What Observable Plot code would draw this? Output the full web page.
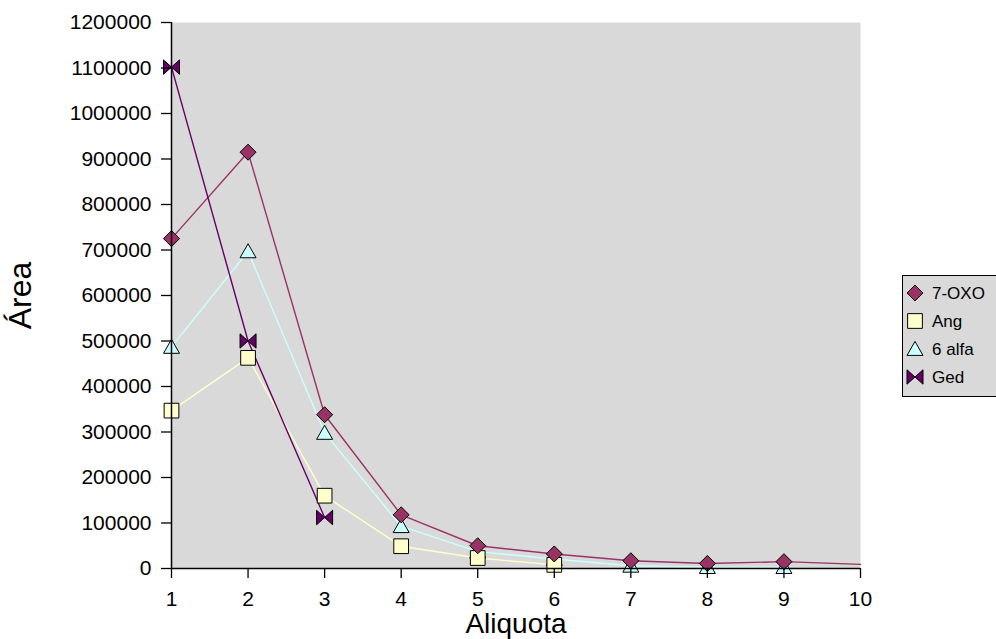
<!DOCTYPE html>
<html><head><meta charset="utf-8">
<script src="https://cdn.jsdelivr.net/npm/d3@7"></script>
<script src="https://cdn.jsdelivr.net/npm/@observablehq/plot@0.6"></script>
<style>body{margin:0;background:#fff;}</style>
</head><body><div id="chart"></div>
<script>
// ---- data ----
const aliquots = [1, 2, 3, 4, 5, 6, 7, 8, 9, 10];
const seriesNames = ["7-OXO", "Ang", "6 alfa", "Ged"];
const oxo  = [725000, 915000, 338000, 118000, 50000, 32000, 17000, 11000, 15000, 9000];
const ang  = [347000, 463000, 160000, 49000, 23000, 8000];
const alfa = [487000, 697000, 298000, 93000, 37000, 21000, 6000, 3000, 3000];
const ged  = [1102000, 500000, 112000];
const markerCounts = [9, 6, 9, 3];
const yTicks = [0, 100000, 200000, 300000, 400000, 500000, 600000, 700000, 800000, 900000, 1000000, 1100000, 1200000];
const xTicks = [1, 2, 3, 4, 5, 6, 7, 8, 9, 10];
const lineColors = ["#993366", "#FFFFCC", "#CCFFFF", "#660066"];
const fillColors = ["#993366", "#FFFFCC", "#CCFFFF", "#660066"];

// ---- symbols ----
const diamond = {draw(c, s){const r=Math.sqrt(s/Math.PI); c.moveTo(0,-r); c.lineTo(r,0); c.lineTo(0,r); c.lineTo(-r,0); c.closePath();}};
const square = {draw(c, s){const r=Math.sqrt(s/Math.PI)*0.92; c.rect(-r,-r,2*r,2*r);}};
const triangle = {draw(c, s){const r=Math.sqrt(s/Math.PI); c.moveTo(0,-r*0.95); c.lineTo(r,r*0.8); c.lineTo(-r,r*0.8); c.closePath();}};
const bowtie = {draw(c, s){const r=Math.sqrt(s/Math.PI); const h=r*0.9; c.moveTo(-r,-h); c.lineTo(r,h); c.lineTo(r,-h); c.lineTo(-r,h); c.closePath();}};
const symbols = [diamond, square, triangle, bowtie];

const valuesList = [oxo, ang, alfa, ged];
const series = seriesNames.map((name, k) => ({
  name, line: lineColors[k], fill: fillColors[k], symbol: symbols[k],
  rows: valuesList[k].map((v, i) => ({x: aliquots[i], y: v, i}))
}));

const lineMarks = series.map(s => Plot.line(s.rows, {x: "x", y: "y", stroke: s.line, strokeWidth: 1.4}));
const dotOrder = [3, 2, 1, 0];
const dotMarks = dotOrder.map(k => {
  const s = series[k];
  return Plot.dot(s.rows.filter(d => d.i < markerCounts[k]), {
    x: "x", y: "y", r: 8, symbol: s.symbol, fill: s.fill, stroke: "#000", strokeWidth: 1
  });
});

const plot = Plot.plot({
  width: 996, height: 639,
  marginLeft: 171, marginRight: 136, marginTop: 22, marginBottom: 71,
  x: {domain: [1, 10], axis: null},
  y: {domain: [0, 1200000], axis: null},
  style: {fontFamily: "'Liberation Sans', Arial, sans-serif", fontSize: "21px", color: "#000", background: "#fff"},
  marks: [
    Plot.frame({fill: "#d9d9d9", stroke: "none"}),
    ...lineMarks,
    ...dotMarks,
    Plot.axisY({ticks: yTicks, tickSize: 10, tickPadding: 10, tickFormat: d => String(d), label: null, strokeWidth: 1.3}),
    Plot.axisX({ticks: xTicks, tickSize: 10, tickPadding: 13, tickFormat: d => String(d), label: null, strokeWidth: 1.3}),
    Plot.ruleX([1], {stroke: "#000", strokeWidth: 1.5}),
    Plot.ruleY([0], {stroke: "#000", strokeWidth: 1.5}),
    Plot.text(["Área"], {text: d => d, frameAnchor: "left", textAnchor: "middle", lineAnchor: "middle", dx: -151, rotate: -90, fontSize: 32}),
    Plot.text(["Aliquota"], {text: d => d, frameAnchor: "bottom", textAnchor: "middle", lineAnchor: "middle", dy: 56, fontSize: 28})
  ]
});
document.getElementById("chart").appendChild(plot);

// ---- legend ----
const svg = d3.select(plot);
const g = svg.append("g").attr("font-family", "'Liberation Sans', Arial, sans-serif");
g.append("rect").attr("x", 902.5).attr("y", 275.5).attr("width", 110).attr("height", 121)
  .attr("fill", "#d9d9d9").attr("stroke", "#000").attr("stroke-width", 1);
series.forEach((s, k) => {
  const cy = 293 + k * 28;
  g.append("path").attr("transform", `translate(915,${cy})`)
    .attr("d", d3.symbol(s.symbol, 64 * Math.PI)())
    .attr("fill", s.fill).attr("stroke", "#000").attr("stroke-width", 1);
  g.append("text").attr("x", 932).attr("y", cy).attr("dy", "0.35em")
    .attr("text-anchor", "start")
    .attr("font-size", 17).attr("fill", "#000").text(s.name);
});
</script>
</body></html>
